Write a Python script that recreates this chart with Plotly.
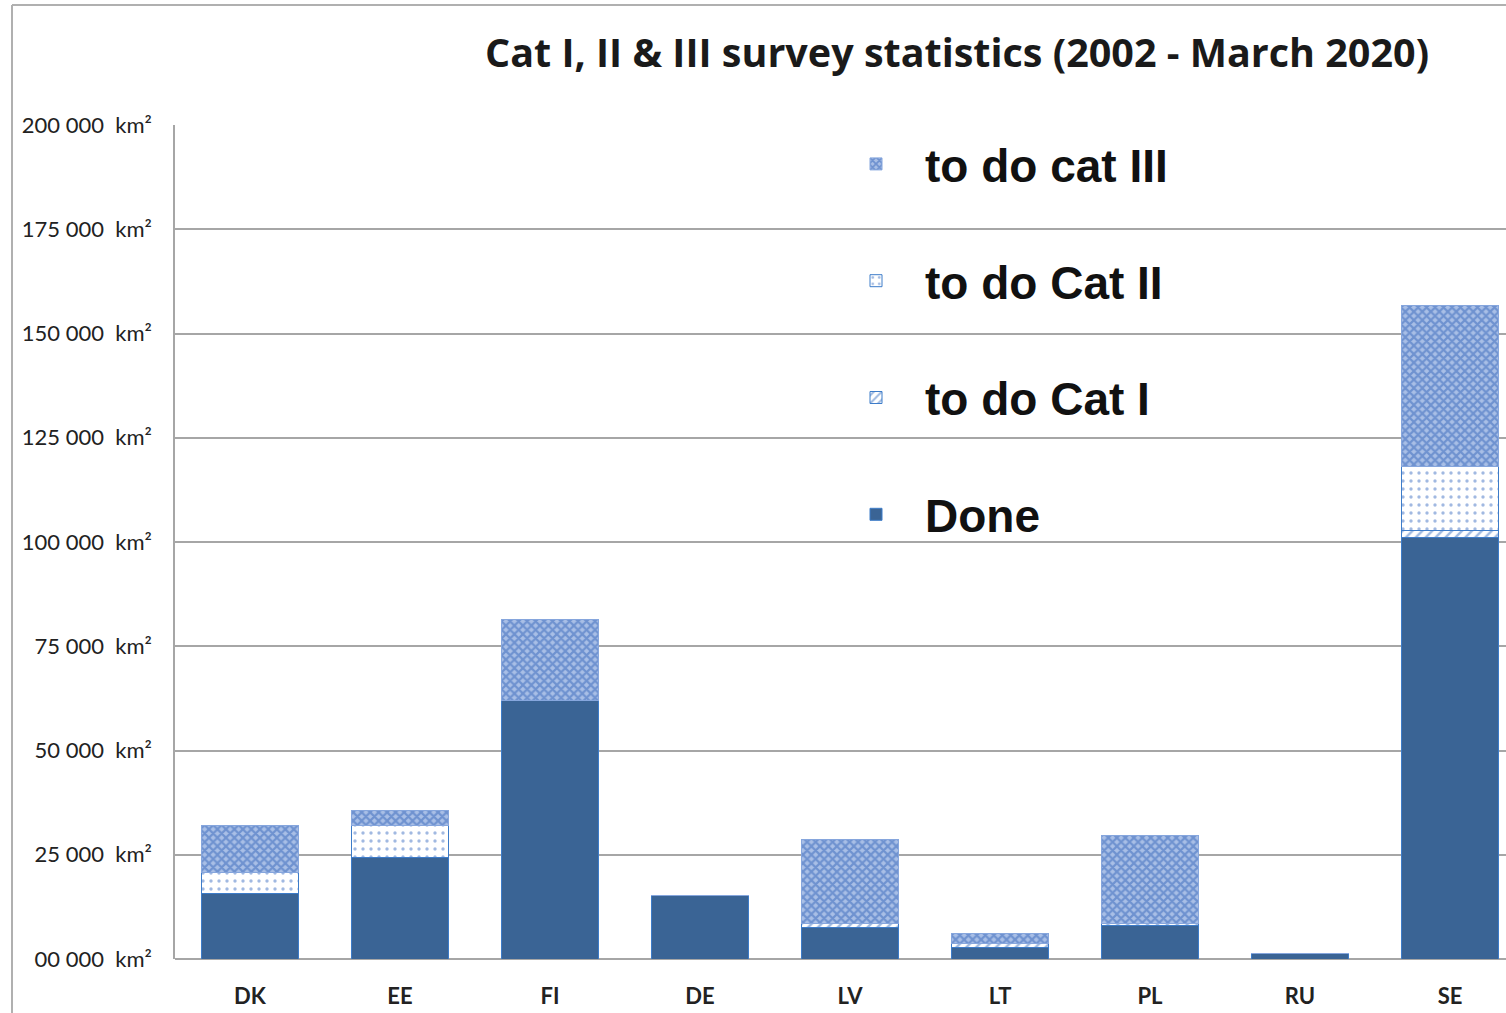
import plotly.graph_objects as go

countries = ["DK", "EE", "FI", "DE", "LV", "LT", "PL", "RU", "SE"]
done =      [15750, 24400, 61900, 15300, 7600, 2800, 8150, 1400, 101100]
todo_cat1 = [0,     0,     0,     0,     950,  800,  400,  0,    1600]
todo_cat2 = [4950,  7700,  0,     0,     0,    0,    0,    0,    15400]
todo_cat3 = [11400, 3600,  19600, 0,     20200, 2600, 21100, 0,   38700]

tick_vals = [0, 25000, 50000, 75000, 100000, 125000, 150000, 175000, 200000]
tick_text = ["00 000  km²", "25 000  km²", "50 000  km²", "75 000  km²", "100 000  km²",
             "125 000  km²", "150 000  km²", "175 000  km²", "200 000  km²"]

title_text = "Cat I, II & III survey statistics (2002 - March 2020)"

W, H = 1506, 1013
L, R, T, B = 175, 0, 125, 54
pw, ph = W - L - R, H - T - B

edge = "#3D7CC9"
fig = go.Figure()
fig.add_trace(go.Bar(x=countries, y=done, name="Done", legendgroup="a", legendrank=4,
                     marker=dict(color="#3A6495", line=dict(color=edge, width=1))))
fig.add_trace(go.Bar(x=countries, y=todo_cat1, name="to do Cat I", legendgroup="b", legendrank=3,
                     marker=dict(color="white", line=dict(color=edge, width=1),
                                 pattern=dict(shape="/", fgcolor="#3F74C2", bgcolor="white",
                                              size=7, solidity=0.35))))
fig.add_trace(go.Bar(x=countries, y=todo_cat2, name="to do Cat II", legendgroup="c", legendrank=2,
                     marker=dict(color="white", line=dict(color=edge, width=1),
                                 pattern=dict(shape=".", fgcolor="#4373C4", bgcolor="white",
                                              size=8, solidity=0.14))))
fig.add_trace(go.Bar(x=countries, y=todo_cat3, name="to do cat III", legendgroup="d", legendrank=1,
                     marker=dict(color="#6A8FD0", line=dict(color="#86A6DD", width=1),
                                 pattern=dict(shape="x", fgcolor="#3566BA", bgcolor="#A9BFE6",
                                              size=6, solidity=0.6))))

cat_span = pw / 150.0

fig.update_layout(
    width=W, height=H,
    margin=dict(l=L, r=R, t=T, b=B, autoexpand=False),
    paper_bgcolor="white", plot_bgcolor="white",
    barmode="stack", bargap=0.35,
    font=dict(family="Lato, Liberation Sans, sans-serif", color="#222222"),
    title=dict(text="<b>" + title_text + "</b>", x=(957 - L) / pw, xref="paper", xanchor="center",
               y=1 - 53 / H, yref="container", yanchor="middle",
               font=dict(family="Open Sans, sans-serif", size=39.5, color="#1a1a1a")),
    xaxis=dict(type="category", range=[-0.5, -0.5 + cat_span], showgrid=False,
               showline=False, ticks="", ticklabelstandoff=22,
               tickfont=dict(family="Lato, sans-serif", size=22, color="#222222", weight="bold")),
    yaxis=dict(range=[0, 200000], tickvals=tick_vals, ticktext=tick_text,
               showgrid=True, gridcolor="#A6A6A6", gridwidth=1.5,
               showline=True, linecolor="#A6A6A6", linewidth=1.5,
               zeroline=True, zerolinecolor="#A6A6A6", zerolinewidth=1.5,
               ticks="", ticklabelstandoff=17,
               tickfont=dict(family="Lato, sans-serif", size=22, color="#222222")),
    legend=dict(x=(827 - L) / pw, xanchor="left", y=0.997, yanchor="top",
                traceorder="grouped", tracegroupgap=54, itemwidth=88,
                bgcolor="rgba(0,0,0,0)",
                font=dict(family="Liberation Sans, Arial, sans-serif", size=46, color="#111111",
                          weight="bold"),
                itemclick=False),
    shapes=[
        dict(type="line", xref="paper", yref="paper",
             x0=(12 - L) / pw, x1=(12 - L) / pw, y0=(959 - H) / ph, y1=(959 - 5) / ph,
             line=dict(color="#B0B0B0", width=2)),
        dict(type="line", xref="paper", yref="paper",
             x0=(12 - L) / pw, x1=1.0, y0=(959 - 5) / ph, y1=(959 - 5) / ph,
             line=dict(color="#B0B0B0", width=2)),
    ],
)

fig.write_html("out.html", config={"displayModeBar": False},
               post_script="document.body.style.margin='0';document.body.style.overflow='hidden';")
